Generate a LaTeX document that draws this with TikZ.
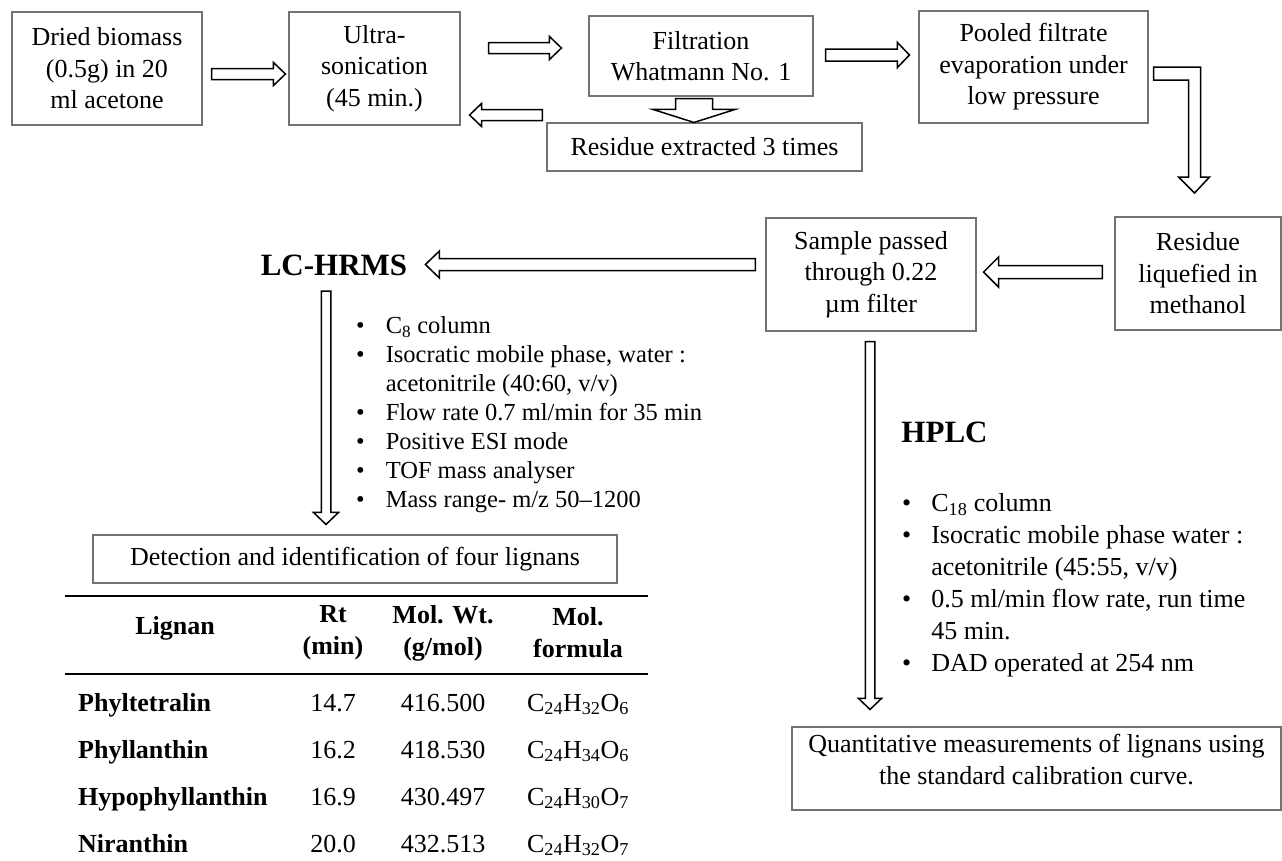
\documentclass[tikz,border=0pt]{standalone}
\usepackage{fontspec}
\setmainfont{Liberation Serif}
\usetikzlibrary{calc}
\begin{document}
\begin{tikzpicture}[x=1pt,y=-1pt,
    box/.style={draw=black!55, line width=1.1pt, inner sep=0pt, align=center, font=\fontsize{26}{31.5}\selectfont},
    barrow/.style n args={3}{draw, line width=1.5pt, fill=white, line join=miter,
      to path={let \p1=(\tikztostart), \p2=(\tikztotarget),
        \n1={atan2(\y2-\y1,\x2-\x1)}, \n2={veclen(\x2-\x1,\y2-\y1)} in
        [shift={(\p1)}, rotate=\n1] (0,-#1) -- (\n2-#3,-#1) -- (\n2-#3,-#2)
        -- (\n2,0) -- (\n2-#3,#2) -- (\n2-#3,#1) -- (0,#1) -- cycle}},
    heading/.style={font=\bfseries\fontsize{31}{36}\selectfont, inner sep=0pt},
    cell/.style={font=\fontsize{26}{32}\selectfont, inner sep=0pt, align=center},
    bcell/.style={cell, font=\bfseries\fontsize{26}{32}\selectfont}]
	\fill[white] (0,0) rectangle (1282,860);
	% extraction steps
	\node[box, minimum width=190, minimum height=113] (dried) at (107,68.5) {Dried biomass\\(0.5g) in 20\\ml acetone};
	\node[box, minimum width=171, minimum height=113] (sonic) at (374.5,68.5) {Ultra-\\sonication\\(45 min.)};
	\node[box, minimum width=224, minimum height=80] (filt) at (701,56) {Filtration\\Whatmann No. 1};
	\node[box, minimum width=315, minimum height=48] (resid) at (704.5,147) {Residue extracted 3 times};
	\node[box, minimum width=229, minimum height=112] (pool) at (1033.5,67) {Pooled filtrate\\evaporation under\\low pressure};
	\node[box, minimum width=166, minimum height=113] (liq) at (1198,273.5) {Residue\\liquefied in\\methanol};
	\node[box, minimum width=210, minimum height=113] (sample) at (871,274.5) {Sample passed\\through 0.22\\µm filter};
	\draw[barrow={5.5}{11.5}{12}] ([shift={(9,5.5)}]dried.east) to ([shift={(-3,5.5)}]sonic.west);
	\draw[barrow={5.5}{11.5}{12}] ([shift={(28,-20.5)}]sonic.east) to ([shift={(-27,-8)}]filt.west);
	\draw[barrow={5.5}{11.5}{12}] ([shift={(-4,-32)}]resid.west) to ([shift={(9,46.5)}]sonic.east);
	\draw[barrow={18.5}{41}{13}] ([shift={(-7,2)}]filt.south) to ([shift={(-10.5,0)}]resid.north);
	\draw[barrow={6}{12.5}{12}] ([shift={(12,-1)}]filt.east) to ([shift={(-9,-12)}]pool.west);
	\draw[line width=1.5pt, fill=white] ([xshift=5pt]pool.east) -- ++(47,0) -- ++(0,110) -- ++(9,0)
	    -- ++(-15,16) -- ++(-16,-16) -- ++(10,0) -- ++(0,-97) -- ++(-35,0) -- cycle;
	\draw[barrow={6.5}{15}{15}] ([shift={(-12,-1.5)}]liq.west) to ([shift={(7,-2.5)}]sample.east);
	% LC-HRMS branch
	\node[heading] (lc) at (334,265) {LC-HRMS};
	\draw[barrow={6}{13.5}{14}] ([shift={(-10,-10)}]sample.west) to ([shift={(18,-0.5)}]lc.east);
	\node[anchor=north west, inner sep=0pt, font=\fontsize{24.5}{29}\selectfont] (lcsteps) at (356,313) {%
	  \begin{tabular}{@{}l@{\hspace{21pt}}l@{}}
	  \textbullet & C\textsubscript{8} column\\
	  \textbullet & Isocratic mobile phase, water :\\
	              & acetonitrile (40:60, v/v)\\
	  \textbullet & Flow rate 0.7 ml/min for 35 min\\
	  \textbullet & Positive ESI mode\\
	  \textbullet & TOF mass analyser\\
	  \textbullet & Mass range- m/z 50--1200
	  \end{tabular}};
	\node[box, minimum width=524, minimum height=48] (det) at (355,559) {Detection and identification of four lignans};
	\draw[barrow={4.75}{12.5}{12}] ([shift={(-8,26)}]lc.center) to ([shift={(-29,-10)}]det.north);
	% lignan table
	\draw[line width=2.5pt] (65,596) -- (648,596);
	\draw[line width=2.5pt] (65,674) -- (648,674);
	\node[bcell] (hlig) at (175,628) {Lignan};
	\node[bcell] (hrt) at (333,633) {Rt\\(min)};
	\node[bcell] (hmw) at (443,633) {Mol. Wt.\\(g/mol)};
	\node[bcell] (hfor) at (578,633) {Mol.\\formula};
	\foreach \lname/\rt/\mw/\hh/\oo [count=\i] in {Phyltetralin/14.7/416.500/32/6,
	    Phyllanthin/16.2/418.530/34/6, Hypophyllanthin/16.9/430.497/30/7, Niranthin/20.0/432.513/32/7}{
	  \node[bcell, anchor=base west] (name\i) at (78,664+47*\i) {\lname};
	  \node[cell, anchor=base] (rt\i) at (333,664+47*\i) {\rt};
	  \node[cell, anchor=base] (mw\i) at (443,664+47*\i) {\mw};
	  \node[cell, anchor=base] (form\i) at (578,664+47*\i) {C\textsubscript{24}H\textsubscript{\hh}O\textsubscript{\oo}};
	}
	% HPLC branch
	\node[heading] (hplc) at (944.5,432) {HPLC};
	\node[anchor=north west, inner sep=0pt, font=\fontsize{26}{32}\selectfont] (hplcsteps) at (902,489) {%
	  \begin{tabular}{@{}l@{\hspace{20pt}}l@{}}
	  \textbullet & C\textsubscript{18} column\\
	  \textbullet & Isocratic mobile phase water :\\
	              & acetonitrile (45:55, v/v)\\
	  \textbullet & 0.5 ml/min flow rate, run time\\
	              & 45 min.\\
	  \textbullet & DAD operated at 254 nm
	  \end{tabular}};
	\node[box, minimum width=489, minimum height=83] (quant) at (1036.5,768.5) {Quantitative measurements of lignans using\\the standard calibration curve.\\[-13pt]\mbox{}};
	\draw[barrow={4.75}{11.5}{11}] ([shift={(-1,10)}]sample.south) to ([shift={(-166.5,-17)}]quant.north);
\end{tikzpicture}
\end{document}
